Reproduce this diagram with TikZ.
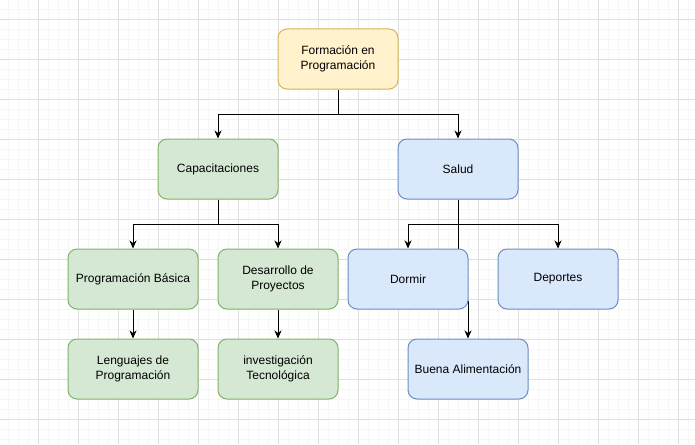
\documentclass[tikz,border=0pt]{standalone}
\usepackage{fontspec}
\setmainfont{Liberation Sans}
\usetikzlibrary{arrows.meta}

\definecolor{gridminor}{HTML}{F6F6F6}
\definecolor{gridmajor}{HTML}{E0E0E0}
\definecolor{yellowfill}{HTML}{FFF2CC}
\definecolor{yellowline}{HTML}{D6B656}
\definecolor{greenfill}{HTML}{D5E8D4}
\definecolor{greenline}{HTML}{82B366}
\definecolor{bluefill}{HTML}{DAE8FC}
\definecolor{blueline}{HTML}{6C8EBF}

\pgfdeclarelayer{background}
\pgfdeclarelayer{edges}
\pgfsetlayers{background,edges,main}

\tikzset{
    box/.style={draw, rounded corners=9pt, line width=1pt,
        minimum width=120pt, minimum height=60pt, inner sep=0pt,
        align=center, font=\fontsize{12}{14.4}\selectfont},
    topbox/.style={box, fill=yellowfill, draw=yellowline},
    greenbox/.style={box, fill=greenfill, draw=greenline},
    bluebox/.style={box, fill=bluefill, draw=blueline},
    link/.style={draw=black, line width=1pt,
        -{Stealth[length=8pt, width=7pt, inset=2.5pt]}}
}

\begin{document}
\begin{tikzpicture}[x=1pt, y=-1pt]
    \useasboundingbox (0,0) rectangle (695,444);

    % grid
    \begin{pgfonlayer}{background}
        \fill[white] (0,0) rectangle (695,444);
        \foreach \x in {8,18,...,688}
            \draw[gridminor, line width=0.8pt] (\x,0) -- (\x,444);
        \foreach \y in {9,19,...,439}
            \draw[gridminor, line width=0.8pt] (0,\y) -- (695,\y);
        \foreach \x in {38,78,...,678}
            \draw[gridmajor, line width=0.8pt] (\x,0) -- (\x,444);
        \foreach \y in {19,59,...,419}
            \draw[gridmajor, line width=0.8pt] (0,\y) -- (695,\y);
    \end{pgfonlayer}

    \node[topbox] (formacion) at (338,59) {Formación en\\Programación};

    \node[greenbox] (capacitaciones) at (218,169) {Capacitaciones};
    \node[bluebox] (salud) at (458,169) {Salud};

    \node[greenbox, minimum width=130pt] (basica) at (133,279) {Programación Básica};
    \node[greenbox] (desarrollo) at (278,279) {Desarrollo de\\Proyectos};
    \node[bluebox] (dormir) at (408,279) {Dormir};
    \node[bluebox] (deportes) at (558,279) {Deportes};

    \node[greenbox, minimum width=130pt] (lenguajes) at (133,369) {Lenguajes de\\Programación};
    \node[greenbox] (investigacion) at (278,369) {investigación\\Tecnológica};
    \node[bluebox] (alimentacion) at (468,369) {Buena Alimentación};

    % connectors
    \begin{pgfonlayer}{edges}
        \draw[link] (formacion.south) -- ++(0,25) -| (capacitaciones.north);
        \draw[link] (formacion.south) -- ++(0,25) -| (salud.north);
        \draw[link] (capacitaciones.south) -- ++(0,25) -| (basica.north);
        \draw[link] (capacitaciones.south) -- ++(0,25) -| (desarrollo.north);
        \draw[link] (salud.south) -- ++(0,25) -| (dormir.north);
        \draw[link] (salud.south) -- ++(0,25) -| (deportes.north);
        \draw[link] (salud.south) -- ++(0,102) -| (alimentacion.north);
        \draw[link] (basica.south) -- (lenguajes.north);
        \draw[link] (desarrollo.south) -- (investigacion.north);
    \end{pgfonlayer}
\end{tikzpicture}
\end{document}
